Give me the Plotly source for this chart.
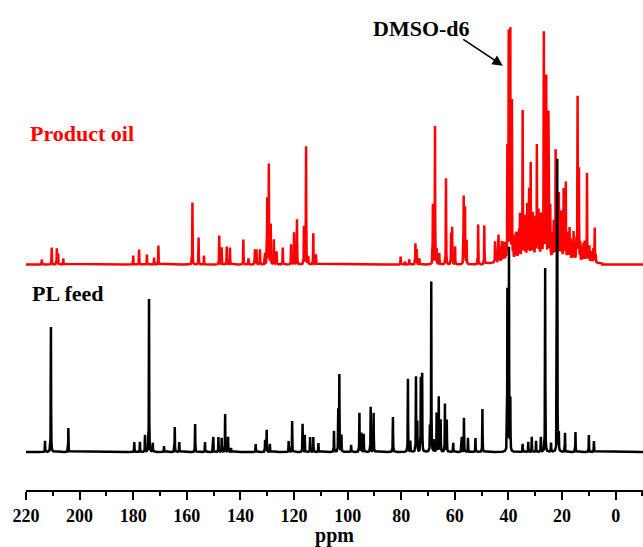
import numpy as np
import plotly.graph_objects as go

# ---- data (ppm, relative intensity) ----
feed_ppm = [212.9, 210.7, 204.2, 179.6, 177.5, 175.6, 174.1, 172.7, 168.5, 164.5, 162.8,
            156.9, 153.2, 150.1, 148.2, 147.0, 145.7, 144.6, 143.5, 134.3, 130.8, 130.2,
            129.0, 122.0, 120.7, 116.8, 116.0, 114.0, 112.8, 110.9, 105.1, 103.5, 103.1,
            102.3, 98.7, 95.6, 94.9, 94.0, 91.4, 90.3, 83.1, 77.5, 76.6, 74.5, 74.0, 72.7,
            72.2, 69.3, 68.8, 67.9, 66.8, 66.0, 65.3, 63.7, 63.0, 60.6, 57.4, 56.6, 55.1,
            52.3, 49.7, 40.4, 39.8, 39.3, 34.7, 32.6, 31.3, 29.7, 27.9, 26.3, 24.1, 21.8,
            21.2, 18.9, 15.0, 10.0, 8.1]
feed_int = [11, 125, 24, 10, 10, 17, 153, 9, 6, 25, 10,
            28, 10, 15, 15, 14, 38, 15, 4, 8, 12, 22,
            8, 11, 31, 28, 17, 15, 15, 9, 21, 42, 77,
            17, 7, 39, 19, 18, 45, 39, 35, 73, 11, 75, 30, 74,
            78, 25, 170, 12, 39, 55, 32, 48, 32, 9, 15, 34, 14,
            14, 43, 162, 203, 52, 8, 10, 15, 11, 15, 184, 9, 293,
            18, 19, 20, 17, 11]

oil_ppm = [214.1, 210.4, 208.5, 208.0, 206.1, 180.0, 177.8, 174.9, 172.2, 170.6, 157.9,
           155.6, 153.6, 147.9, 147.0, 145.1, 143.9, 138.9, 137.0, 134.6, 134.0, 132.7,
           130.8, 130.0, 129.4, 128.7, 127.5, 126.5, 124.2, 121.1, 120.0, 118.9, 116.3,
           115.5, 114.7, 112.8, 111.8, 80.2, 78.6, 77.0, 74.7, 74.2, 73.2, 68.2, 67.4,
           66.8, 65.8, 63.3, 61.4, 61.0, 59.9, 56.7, 56.2, 55.6, 51.3, 49.0, 45.0, 43.7,
           42.5, 42.0, 40.4, 39.9, 39.3, 38.7, 36.9, 35.7, 34.7, 33.9, 33.0, 32.3, 31.7,
           30.9, 30.0, 29.4, 28.8, 27.9, 27.5, 26.8, 25.9, 25.1, 24.4, 23.1, 22.4, 21.2,
           20.4, 19.4, 18.6, 17.2, 15.7, 14.2, 13.7, 12.0, 10.7, 9.3, 7.8,
           # small overlapping signals of the aliphatic envelope
           44.5, 43.2, 41.5, 41.0, 38.2, 37.6, 37.2, 36.4, 36.0, 35.2, 34.3, 33.5, 32.7,
           31.2, 30.5, 29.9, 29.0, 28.4, 27.0, 26.3, 24.8, 23.6, 23.0, 22.0, 21.6, 20.8,
           20.0, 19.0, 18.0, 17.6, 16.8, 16.2, 15.2, 14.6, 13.2, 12.5, 11.5, 11.0, 10.2,
           9.8, 8.8, 8.3, 7.4]
oil_int = [5, 17, 16, 11, 6, 9, 15, 10, 7, 19, 62,
           27, 9, 29, 17, 18, 17, 25, 6, 15, 15, 15,
           11, 66, 100, 40, 25, 13, 17, 20, 32, 45, 38,
           118, 8, 31, 10, 8, 3, 5, 21, 15, 6, 60, 138,
           15, 11, 86, 31, 37, 18, 68, 57, 24, 40, 39, 21, 27,
           20, 19, 113, 227, 229, 158, 26, 44, 147, 41, 53, 68, 94,
           43, 27, 111, 44, 42, 35, 222, 180, 144, 51, 31, 107, 64,
           46, 69, 76, 31, 28, 163, 91, 18, 88, 11, 35,
           12, 15, 18, 14, 22, 18, 25, 20, 28, 24, 30, 26, 22,
           30, 25, 32, 28, 30, 26, 30, 28, 24, 20, 26, 30, 22,
           28, 24, 22, 26, 20, 18, 16, 20, 18, 15, 20, 14, 12,
           16, 10, 14, 8]

# broad raised envelope under the product-oil aliphatic region
oil_broad_ppm = [27.0]
oil_broad_int = [7]
oil_broad_width = [11.0]

x_ticks = [220, 200, 180, 160, 140, 120, 100, 80, 60, 40, 20, 0]
oil_offset = 187.5
line_hw = 0.06  # Lorentzian half width (ppm)


def spectrum(ppm, inten, broad=None):
    grid = np.round(np.arange(-10.5, 220.5, 0.02), 2)
    x = np.unique(np.concatenate([grid, np.array(ppm)]))
    y = np.zeros_like(x)
    for p, h in zip(ppm, inten):
        y += h * line_hw ** 2 / ((x - p) ** 2 + line_hw ** 2)
    if broad:
        for p, h, w in zip(*broad):
            y += h * np.exp(-0.5 * ((x - p) / w) ** 2) * (np.abs(x - p) < 2 * w)
    return x, y


xf, yf = spectrum(feed_ppm, feed_int)
xo, yo = spectrum(oil_ppm, oil_int, (oil_broad_ppm, oil_broad_int, oil_broad_width))

FONT = "Liberation Serif"

fig = go.Figure()
fig.add_trace(go.Scatter(x=xo, y=yo + oil_offset, mode="lines",
                         line=dict(color="#ff0000", width=2.5), hoverinfo="skip"))
fig.add_trace(go.Scatter(x=xf, y=yf, mode="lines",
                         line=dict(color="#000000", width=2.5), hoverinfo="skip"))

fig.update_layout(
    width=643, height=547,
    margin=dict(l=26, r=0, t=0, b=57, autoexpand=False),
    paper_bgcolor="white", plot_bgcolor="white",
    showlegend=False,
    font=dict(family=FONT, color="black"),
    xaxis=dict(
        range=[220, -10.2], showgrid=False, zeroline=False,
        showline=True, linecolor="black", linewidth=2,
        ticks="outside", ticklen=8, tickwidth=2, tickcolor="black",
        tickvals=x_ticks, ticktext=[str(v) for v in x_ticks],
        tickfont=dict(family=FONT, size=18, weight="bold", color="black"),
        minor=dict(dtick=10, ticks="outside", ticklen=4, tickwidth=2, tickcolor="black"),
        title=dict(text="ppm", font=dict(family=FONT, size=20, weight="bold"), standoff=4),
        automargin=False,
    ),
    yaxis=dict(visible=False, range=[-38, 452]),
    annotations=[
        dict(x=219.3, y=319, xref="x", yref="y", text="Product oil", showarrow=False,
             xanchor="left", yanchor="middle",
             font=dict(family=FONT, size=22, weight="bold", color="#ff0000")),
        dict(x=218.5, y=159, xref="x", yref="y", text="PL feed", showarrow=False,
             xanchor="left", yanchor="middle",
             font=dict(family=FONT, size=22, weight="bold", color="black")),
        dict(x=72.4, y=424, xref="x", yref="y", text="DMSO-d6", showarrow=False,
             xanchor="center", yanchor="middle",
             font=dict(family=FONT, size=22, weight="bold", color="black")),
        dict(x=42.1, y=386.3, ax=57.4, ay=413.7, xref="x", yref="y", axref="x", ayref="y",
             text="", showarrow=True, arrowhead=2, arrowsize=1.3, arrowwidth=1.6,
             arrowcolor="black"),
    ],
)

fig.write_html("out.html",
               config={"displayModeBar": False},
               post_script="document.body.style.margin='0';document.body.style.overflow='hidden';")
